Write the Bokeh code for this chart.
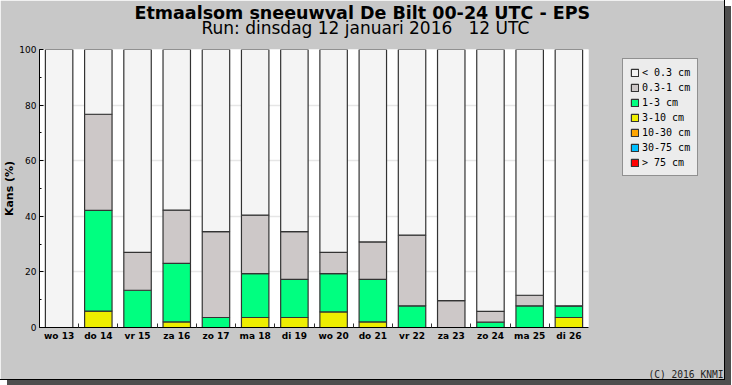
from bokeh.plotting import figure
from bokeh.models import (FactorRange, Range1d, Legend, LegendItem, Title, LinearAxis,
                          FixedTicker, SingleIntervalTicker, ColumnDataSource)
from bokeh.embed import file_html
from bokeh.resources import INLINE

# ---- data (probability in %, per snowfall class) ----
days = ["wo 13", "do 14", "vr 15", "za 16", "zo 17", "ma 18", "di 19",
        "wo 20", "do 21", "vr 22", "za 23", "zo 24", "ma 25", "di 26"]
p_gt75   = [0, 0, 0, 0, 0, 0, 0, 0, 0, 0, 0, 0, 0, 0]
p_30_75  = [0, 0, 0, 0, 0, 0, 0, 0, 0, 0, 0, 0, 0, 0]
p_10_30  = [0, 0, 0, 0, 0, 0, 0, 0, 0, 0, 0, 0, 0, 0]
p_3_10   = [0, 5.9, 0, 2.0, 0, 3.6, 3.6, 5.6, 2.0, 0, 0, 0, 0, 3.6]
p_1_3    = [0, 36.2, 13.4, 21.1, 3.6, 15.8, 13.7, 13.8, 15.3, 7.8, 0, 1.9, 7.8, 4.2]
p_03_1   = [0, 34.6, 13.6, 19.1, 30.9, 21.0, 17.2, 7.6, 13.5, 25.4, 9.7, 3.9, 3.8, 0]
p_lt03   = [100, 23.3, 73.0, 57.8, 65.5, 59.6, 65.5, 73.0, 69.2, 66.8, 90.3, 94.2, 88.4, 92.2]

class_keys   = ["gt75", "c30_75", "c10_30", "c3_10", "c1_3", "c03_1", "lt03"]
class_labels = ["> 75 cm", "30-75 cm", "10-30 cm", "3-10 cm", "1-3 cm", "0.3-1 cm", "< 0.3 cm"]
class_colors = ["#ff0000", "#00bfff", "#ffa500", "#eeee00", "#00ff80", "#cdc8c8", "#f4f4f4"]
y_ticks_interval = 20

source = ColumnDataSource(dict(day=days, gt75=p_gt75, c30_75=p_30_75, c10_30=p_10_30,
                               c3_10=p_3_10, c1_3=p_1_3, c03_1=p_03_1, lt03=p_lt03))

p = figure(x_range=FactorRange(*days, range_padding=0), y_range=Range1d(0, 100),
           x_axis_type=None,
           frame_width=549, frame_height=278, output_backend="svg", toolbar_location=None,
           min_border_left=39, min_border_right=136, min_border_top=49, min_border_bottom=52,
           border_fill_color="#c8c8c8", background_fill_color="#ffffff")
# the whole chart is a 724 x 379 grey card with a dark drop shadow
p.styles = {"max-width": "724px", "max-height": "379px", "overflow": "hidden",
            "outline": "1px solid #000000", "box-shadow": "7px 6px 0 0 #4e4e4e"}
p.outline_line_color = None

renderers = p.vbar_stack(class_keys, x="day", width=0.7, source=source,
                         fill_color=class_colors, line_color="#333333", line_width=1.2)

# x axis: day labels at category centres, small ticks at category boundaries
centres = [i + 0.5 for i in range(len(days))]
bounds = list(range(1, len(days)))
xaxis = LinearAxis(ticker=FixedTicker(ticks=centres, minor_ticks=bounds),
                   major_label_overrides={c: d for c, d in zip(centres, days)},
                   major_tick_line_color=None, major_tick_in=0, major_tick_out=0,
                   minor_tick_line_color="#333333", minor_tick_in=4, minor_tick_out=0,
                   axis_line_color="#000000",
                   major_label_text_font="DejaVu Sans", major_label_text_font_style="bold",
                   major_label_text_font_size="9px", major_label_text_color="#000000",
                   major_label_standoff=3)
p.add_layout(xaxis, "below")

p.yaxis.ticker = SingleIntervalTicker(interval=y_ticks_interval, num_minor_ticks=2)
p.yaxis.axis_line_color = "#000000"
p.yaxis.major_tick_in = 4
p.yaxis.major_tick_out = 0
p.yaxis.minor_tick_in = 2
p.yaxis.minor_tick_out = 0
p.yaxis.major_label_text_font = "DejaVu Sans"
p.yaxis.major_label_text_font_size = "9px"
p.yaxis.major_label_text_color = "#000000"
p.yaxis.major_label_standoff = 3
p.yaxis.axis_label = "Kans (%)"
p.yaxis.axis_label_text_font = "DejaVu Sans"
p.yaxis.axis_label_text_font_style = "bold"
p.yaxis.axis_label_text_font_size = "11px"
p.yaxis.axis_label_text_color = "#000000"
p.yaxis.axis_label_standoff = 0

p.ygrid.grid_line_color = "#e6e6e6"
p.ygrid.grid_line_width = 1.5

# legend (right panel, placed relative to the panel's bottom-left corner)
items = [LegendItem(label=class_labels[i], renderers=[renderers[i]]) for i in reversed(range(7))]
legend = Legend(items=items, location=(34, 151), margin=0, padding=7, spacing=3,
                glyph_width=9, glyph_height=9, label_height=12, label_standoff=3,
                label_text_font="DejaVu Sans Mono", label_text_font_size="10px",
                label_text_color="#000000",
                border_line_color="#333333", border_line_width=1,
                background_fill_color="#ececec", background_fill_alpha=1)
p.add_layout(legend, "right")

# titles
sub = Title(text="Run: dinsdag 12 januari 2016 \u00a0 12 UTC", align="left", offset=162,
            text_font="DejaVu Sans", text_font_style="normal", text_font_size="17px",
            text_color="#000000", standoff=23)
p.add_layout(sub, "above")
main = Title(text="Etmaalsom sneeuwval De Bilt 00-24 UTC - EPS", align="left", offset=95,
             text_font="DejaVu Sans", text_font_style="bold", text_font_size="17.5px",
             text_color="#000000", standoff=0)
main.standoff = -36
p.add_layout(main, "above")

p.add_layout(Title(text="(C) 2016 KNMI", align="right", offset=-135,
                   text_font="DejaVu Sans Mono", text_font_style="normal", text_font_size="9.6px",
                   text_color="#222222", standoff=46, vertical_align="bottom"), "below")

open("out.html", "w").write(file_html(p, INLINE))
